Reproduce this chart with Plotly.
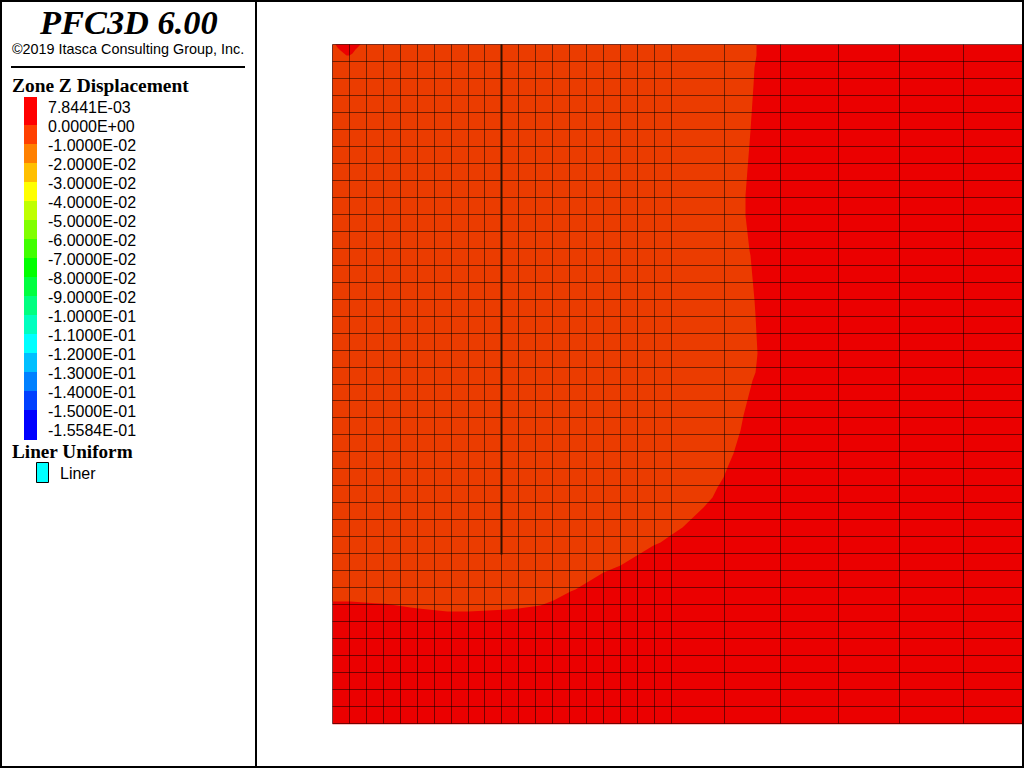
import plotly.graph_objects as go

# ---- data (model coordinates: x to the right, depth downward) ----
grid_x = [0,17,34,51,68,85,102,119,136,152,169,186,203,220,237,254,271,288,305,322,339,392,448,506,567,631]
grid_y = [0,17,34,51,68,85,102,119,136,153,170,187,204,221,238,255,272,289,306,323,340,
          356,373,390,407,424,441,458,475,492,509,526,543,560,577,594,611,628,645,662,679]
zone_w = 690
zone_h = 680

contour_x = [424,424,423,422,421,420,419,418,417,416,415,414,413,413,414,415,416,417,418,419,420,421,422,423,424,425,425,424,423,420,
             416,413,411,408,404,401,395,391,385,380,371,361,350,338,328,321,305,288,271,255,243,238,221,208,195,186,175,156,136,115,
             103,95,86,78,70,61,53,42,30,18,0]
contour_y = [0,11,16,23,41,61,73,86,99,111,126,138,151,171,181,191,196,206,211,221,236,246,256,271,286,301,309,319,328,336,
             351,364,371,386,399,409,423,433,443,453,463,473,483,491,498,501,511,521,528,538,545,547,556,561,563,564,565,566,567,567,
             566,565,564,563,562,561,559.3,558.7,558,557,557]
blob_x = [3,5,8,11,14,17,20,23,26,28]
blob_y = [0,3,6,9,11,11,9,5,2,0]
liner_x = [169,169]
liner_y = [0,510]

level_labels = ["7.8441E-03","0.0000E+00","-1.0000E-02","-2.0000E-02","-3.0000E-02","-4.0000E-02",
                "-5.0000E-02","-6.0000E-02","-7.0000E-02","-8.0000E-02","-9.0000E-02","-1.0000E-01",
                "-1.1000E-01","-1.2000E-01","-1.3000E-01","-1.4000E-01","-1.5000E-01","-1.5584E-01"]
band_colors = ["#FF0000","#FF4000","#FF8000","#FFBF00","#FFFF00","#BFFF00","#80FF00","#40FF00","#00FF00",
               "#00FF40","#00FF80","#00FFBF","#00FFFF","#00BFFF","#0080FF","#0040FF","#0000FF"]
band_sizes = [28,19,19,19,19,19,19,19,19,19,19,19,19,19,19,19,30]

ZONE_RED = "#EB0000"
ZONE_ORANGE = "#EB3C00"
W, H = 1024, 768


def px(x):
    return x / W


def py(y):
    return 1 - y / H


fig = go.Figure()

# zone contour fills
fig.add_trace(go.Scatter(x=[0, zone_w, zone_w, 0, 0], y=[0, 0, zone_h, zone_h, 0], mode="lines",
                         fill="toself", fillcolor=ZONE_RED, line=dict(width=0), hoverinfo="skip"))
fig.add_trace(go.Scatter(x=[0] + contour_x, y=[0] + contour_y, mode="lines", fill="toself",
                         fillcolor=ZONE_ORANGE, line=dict(width=0), hoverinfo="skip"))
fig.add_trace(go.Scatter(x=blob_x, y=blob_y, mode="lines", fill="toself",
                         fillcolor=ZONE_RED, line=dict(width=0), hoverinfo="skip"))

# zone mesh
vx, vy = [], []
for g in grid_x:
    vx += [g, g, None]
    vy += [0, zone_h - 1, None]
hx, hy = [], []
for g in grid_y:
    hx += [0, zone_w, None]
    hy += [g, g, None]
mesh_line = dict(color="rgba(0,0,0,0.5)", width=1)
fig.add_trace(go.Scatter(x=vx, y=vy, mode="lines", line=mesh_line, hoverinfo="skip"))
fig.add_trace(go.Scatter(x=hx, y=hy, mode="lines", line=mesh_line, hoverinfo="skip"))

# liner
fig.add_trace(go.Scatter(x=liner_x, y=liner_y, mode="lines",
                         line=dict(color="#301000", width=2), hoverinfo="skip"))

# colour key, as a stacked column
bases = [sum(band_sizes[:i]) for i in range(len(band_sizes))]
fig.add_trace(go.Bar(x=[0] * len(band_sizes), y=band_sizes, base=bases, width=1,
                     marker=dict(color=band_colors, line=dict(width=0)),
                     xaxis="x2", yaxis="y2", hoverinfo="skip"))

shapes = [
    # outer frame and panel divider
    dict(type="rect", xref="paper", yref="paper", x0=px(0), x1=px(2), y0=py(0), y1=py(H), fillcolor="black", line_width=0),
    dict(type="rect", xref="paper", yref="paper", x0=px(W - 2), x1=px(W), y0=py(0), y1=py(H), fillcolor="black", line_width=0),
    dict(type="rect", xref="paper", yref="paper", x0=px(0), x1=px(W), y0=py(0), y1=py(2), fillcolor="black", line_width=0),
    dict(type="rect", xref="paper", yref="paper", x0=px(0), x1=px(W), y0=py(H - 2), y1=py(H), fillcolor="black", line_width=0),
    dict(type="rect", xref="paper", yref="paper", x0=px(255), x1=px(257), y0=py(0), y1=py(H), fillcolor="black", line_width=0),
    # title rule
    dict(type="rect", xref="paper", yref="paper", x0=px(11), x1=px(245), y0=py(66), y1=py(68), fillcolor="black", line_width=0),
    # liner swatch
    dict(type="rect", xref="paper", yref="paper", x0=px(36.5), x1=px(48.5), y0=py(462.5), y1=py(482.5),
         fillcolor="#00FFFF", line=dict(color="black", width=1)),
]


def label(text, x, y, size, family, anchor="left", color="black"):
    return dict(text=text, x=px(x), y=py(y), xref="paper", yref="paper", showarrow=False,
                xanchor=anchor, yanchor="middle", borderpad=0, borderwidth=0,
                font=dict(size=size, family=family, color=color))


SERIF = "Liberation Serif"
SANS = "Liberation Sans"
annotations = [
    label("<b><i>PFC3D 6.00</i></b>", 128, 22, 34.4, SERIF, anchor="center"),
    label("©2019 Itasca Consulting Group, Inc.", 127.5, 49, 14.4, SANS, anchor="center"),
    label("<b>Zone Z Displacement</b>", 12, 86, 19.4, SERIF),
    label("<b>Liner Uniform</b>", 12, 451.5, 19.2, SERIF),
    label("Liner", 60, 473, 16, SANS),
]
for i, t in enumerate(level_labels):
    annotations.append(label(t, 48, 107.3 + 19 * i, 16, SANS))

fig.update_layout(
    width=W, height=H, margin=dict(l=0, r=0, t=0, b=0), autosize=False,
    paper_bgcolor="white", plot_bgcolor="white", showlegend=False, barmode="overlay",
    xaxis=dict(domain=[px(332), px(1022)], range=[-0.5, 689.5], visible=False),
    yaxis=dict(domain=[py(724.5), py(44)], range=[680, -0.5], visible=False),
    xaxis2=dict(domain=[px(24), px(37)], range=[-0.5, 0.5], visible=False, anchor="y2"),
    yaxis2=dict(domain=[py(440), py(97)], range=[sum(band_sizes), 0], visible=False, anchor="x2"),
    shapes=shapes, annotations=annotations,
)

fig.write_html("out.html", config=dict(displayModeBar=False),
               post_script="document.body.style.margin='0';document.body.style.overflow='hidden';")
